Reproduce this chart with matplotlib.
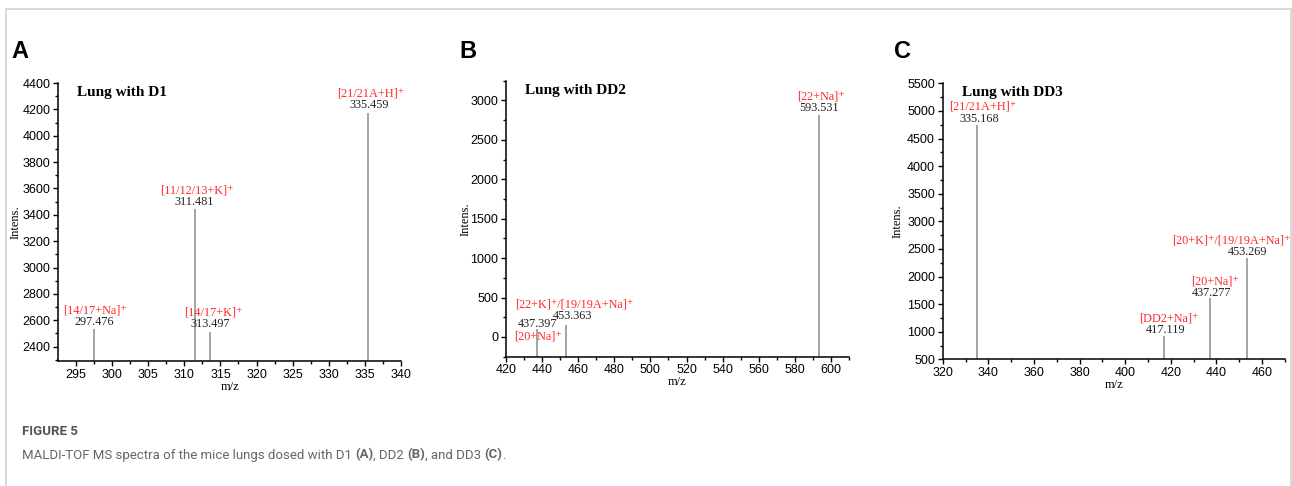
import matplotlib.pyplot as plt
from matplotlib.patches import Rectangle
from matplotlib.text import Annotation
from matplotlib.ticker import MultipleLocator

# ---- data ----
a_mz = [297.476, 311.481, 313.497, 335.459]
a_int = [2535, 3441, 2514, 4172]
a_ions = ['[14/17+Na]⁺', '[11/12/13+K]⁺', '[14/17+K]⁺', '[21/21A+H]⁺']

b_mz = [437.397, 453.363, 593.531]
b_int = [106, 148, 2810]
b_ions = ['[20+Na]⁺', '[22+K]⁺/[19/19A+Na]⁺', '[22+Na]⁺']

c_mz = [335.168, 417.119, 437.277, 453.269]
c_int = [4745, 927, 1605, 2340]
c_ions = ['[21/21A+H]⁺', '[DD2+Na]⁺', '[20+Na]⁺', '[20+K]⁺/[19/19A+Na]⁺']

# label offsets in pixels (number dx, dy, ion dx, dy) relative to peak top
a_off = [(0, 7, 1, 18), (-1, 7, 2, 19), (1, 8, 4, 19), (1, 8, 2, 20)]
b_off = [(0, 5, 1, -8), (6, 9, 8, 21), (0, 7, 2, 19)]
c_off = [(2, 6, 5, 18), (1, 6, 5, 17), (1, 5, 5, 17), (1, 6, -15, 17)]

W, H = 1292, 486
fig = plt.figure(figsize=(W / 100, H / 100), dpi=100)

# light frame around the figure
fig.patches.append(Rectangle((6 / W, -0.05), (1290.5 - 6) / W, 1.05 - 9 / H,
                             transform=fig.transFigure, fill=False,
                             edgecolor='#d2d2d2', lw=1.2, clip_on=False))

serif = ['Liberation Serif', 'DejaVu Serif']
sans = 'Liberation Sans'
cap_font = ['Roboto', 'DejaVu Sans']


def panel(rect, mz, inten, ions, offs, xlim, ylim, xmaj, xmin, ymaj, ymin,
          title, letter, letter_x, ylab_x):
    ax = fig.add_axes(rect)
    ax.vlines(mz, ylim[0], inten, colors='#8a8a8a', lw=1.1)
    ax.set_xlim(*xlim)
    ax.set_ylim(*ylim)
    ax.xaxis.set_major_locator(MultipleLocator(xmaj))
    ax.xaxis.set_minor_locator(MultipleLocator(xmin))
    ax.yaxis.set_major_locator(MultipleLocator(ymaj))
    ax.yaxis.set_minor_locator(MultipleLocator(ymin))
    for s in ['top', 'right']:
        ax.spines[s].set_visible(False)
    for s in ['left', 'bottom']:
        ax.spines[s].set_linewidth(1.1)
    ax.tick_params(which='major', direction='out', length=3.5, width=1,
                   labelsize=9, pad=2)
    ax.tick_params(which='minor', direction='out', length=2, width=1)
    for lab in ax.get_xticklabels() + ax.get_yticklabels():
        lab.set_fontfamily(sans)
    ax.set_xlabel('m/z', fontfamily=serif, fontsize=9, labelpad=0)
    ax.set_ylabel('Intens.', fontfamily=serif, fontsize=9)
    ax.yaxis.set_label_coords(ylab_x, 0.5)
    ax.text(0.055, 0.965, title, transform=ax.transAxes, fontfamily=serif,
            fontweight='bold', fontsize=11, va='center', ha='left')
    for x, y, ion, (ndx, ndy, idx, idy) in zip(mz, inten, ions, offs):
        ax.annotate(f'{x:.3f}', (x, y), xytext=(ndx, ndy),
                    textcoords='offset pixels', ha='center', va='center',
                    fontfamily=serif, fontsize=8.8, color='#222222')
        ax.annotate(ion, (x, y), xytext=(idx, idy),
                    textcoords='offset pixels', ha='center', va='center',
                    fontfamily=serif, fontsize=8.8, color='#ff2a2a')
    fig.text(letter_x, 1 - 52 / H, letter, fontfamily=sans, fontweight='bold',
             fontsize=17, va='center', ha='left')
    return ax


panel([58.3 / W, 1 - 361 / H, 342.7 / W, 278 / H], a_mz, a_int, a_ions, a_off,
      (292.55, 340), (2291, 4400), 5, 2.5, 200, 100,
      'Lung with D1', 'A', 11 / W, -0.108)
panel([506 / W, 1 - 356.7 / H, 343 / W, 276 / H], b_mz, b_int, b_ions, b_off,
      (420, 610), (-250, 3250), 20, 10, 500, 250,
      'Lung with DD2', 'B', 459 / W, -0.099)
panel([942.7 / W, 1 - 359.3 / H, 342.6 / W, 276 / H], c_mz, c_int, c_ions, c_off,
      (320, 470.2), (500, 5500), 20, 10, 500, 250,
      'Lung with DD3', 'C', 894 / W, -0.113)

# caption
fig.text(22 / W, 1 - 431 / H, 'FIGURE 5', fontfamily=cap_font,
         fontweight='bold', fontsize=9.5, color='#555555', va='center')
parts = [('MALDI-TOF MS spectra of the mice lungs dosed with D1 ', 'normal'),
         ('(A)', 'bold'), (', DD2 ', 'normal'), ('(B)', 'bold'),
         (', and DD3 ', 'normal'), ('(C)', 'bold'), ('.', 'normal')]
prev = fig.text(22 / W, 1 - 455 / H, parts[0][0], fontfamily=cap_font,
                fontsize=9.5, color='#666666', va='center')
for s, w in parts[1:]:
    prev = fig.add_artist(Annotation(s, xy=(1, 0.5), xycoords=prev,
                                     va='center', ha='left',
                                     fontfamily=cap_font, fontweight=w,
                                     fontsize=9.5, color='#666666'))

fig.savefig('out.png', dpi=100)
